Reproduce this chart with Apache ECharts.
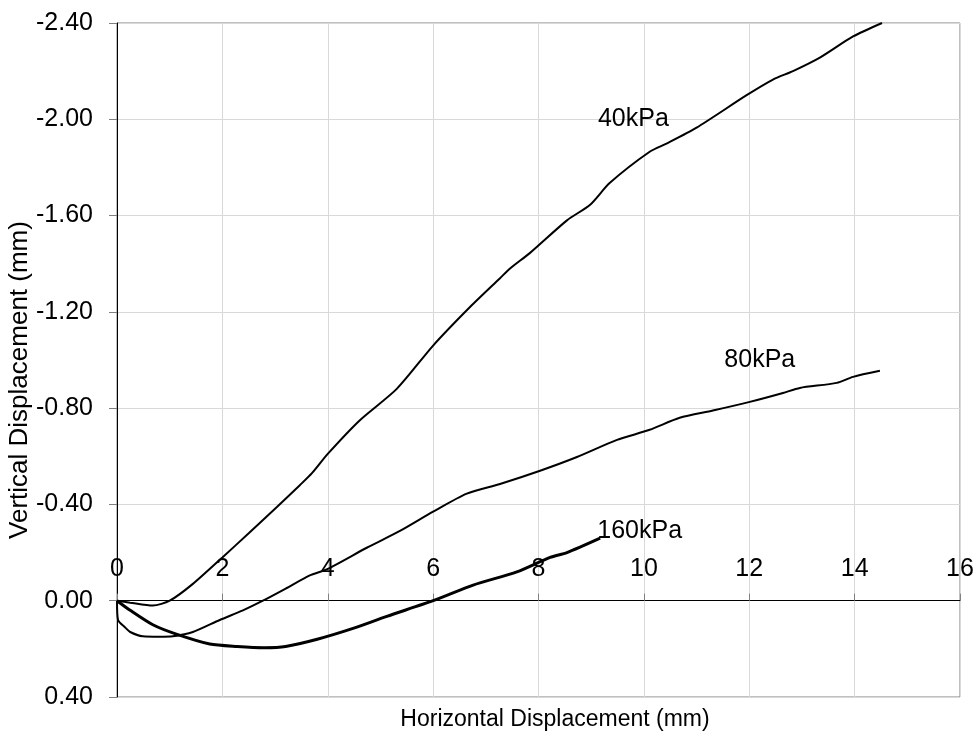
<!DOCTYPE html>
<html>
<head>
<meta charset="utf-8">
<script src="https://cdn.jsdelivr.net/npm/echarts@6/dist/echarts.min.js"></script>
<style>
html,body{margin:0;padding:0;background:#fff;}
#chart{width:979px;height:738px;}
</style>
</head>
<body>
<div id="chart"></div>
<script>
// Horizontal displacement (mm) and vertical displacement (mm) per normal stress
var x40 = [0, 0.25, 0.68, 1.0, 1.44, 2.0, 2.5, 3.04, 3.47, 3.7, 4.0, 4.61, 5.31, 6.0, 6.70, 7.27, 7.46, 7.84, 8.54, 8.98, 9.35, 10.11, 10.44, 11.0, 11.95, 12.45, 12.83, 13.34, 13.97, 14.52];
var y40 = [0, 0.008, 0.02, 0.0, -0.07, -0.18, -0.28, -0.39, -0.48, -0.53, -0.61, -0.75, -0.88, -1.06, -1.22, -1.34, -1.38, -1.445, -1.58, -1.645, -1.735, -1.865, -1.90, -1.965, -2.10, -2.165, -2.20, -2.256, -2.344, -2.40];

var x80 = [0, 0.02, 0.15, 0.25, 0.49, 0.8, 1.06, 1.44, 1.95, 2.39, 2.77, 3.2, 3.66, 3.98, 4.74, 5.37, 6.0, 6.64, 7.27, 8.03, 8.73, 9.49, 10.11, 10.68, 11.31, 12.01, 12.64, 12.96, 13.66, 13.97, 14.48];
var y80 = [0, 0.08, 0.11, 0.13, 0.148, 0.15, 0.148, 0.13, 0.08, 0.04, 0, -0.05, -0.105, -0.13, -0.22, -0.29, -0.37, -0.445, -0.485, -0.54, -0.597, -0.668, -0.71, -0.76, -0.79, -0.826, -0.863, -0.884, -0.905, -0.93, -0.955];

var x160 = [0, 0.25, 0.68, 1.14, 1.76, 2.28, 2.8, 3.2, 3.8, 4.48, 5.12, 6.0, 6.76, 7.59, 8.22, 8.54, 9.17];
var y160 = [0, 0.04, 0.10, 0.14, 0.18, 0.19, 0.195, 0.19, 0.16, 0.115, 0.065, 0.0, -0.065, -0.12, -0.18, -0.20, -0.26];

var seriesNames = ['40kPa', '80kPa', '160kPa'];
var labelPos = [[9.8, -2.0], [12.2, -1.0], [9.92, -0.29]];

var xTitle = 'Horizontal Displacement (mm)';
var yTitle = 'Vertical Displacement (mm)';

function pairs(xs, ys) { return xs.map(function (x, i) { return [x, ys[i]]; }); }

var FONT = 'Liberation Sans, Arial, sans-serif';
var chart = echarts.init(document.getElementById('chart'), null, {renderer: 'canvas'});

function mkSeries(name, data, width, pos) {
  return {
    name: name, type: 'line', data: data, showSymbol: false, symbol: 'none',
    smooth: 0.25,
    lineStyle: {color: '#000', width: width}, itemStyle: {color: '#000'},
    z: 3,
    markPoint: {
      symbol: 'circle', symbolSize: 0, silent: true,
      label: {show: true, position: 'inside', formatter: name, color: '#000', fontSize: 25, fontFamily: FONT},
      data: [{coord: pos}]
    }
  };
}

chart.setOption({
  animation: false,
  backgroundColor: '#fff',
  grid: {left: 117, top: 23, right: 19, bottom: 41, show: true, borderColor: '#808080', borderWidth: 1},
  xAxis: {
    type: 'value', min: 0, max: 16, interval: 2,
    axisLine: {onZero: true, lineStyle: {color: '#000', width: 1}},
    axisTick: {show: true, inside: true, length: 7, lineStyle: {color: '#808080'}},
    axisLabel: {inside: true, margin: 115, fontSize: 25, color: '#000', fontFamily: FONT},
    splitLine: {show: true, lineStyle: {color: '#d9d9d9', width: 1}}
  },
  yAxis: {
    type: 'value', inverse: true, min: -2.4, max: 0.4, interval: 0.4,
    axisLine: {show: true, onZero: false, lineStyle: {color: '#000', width: 1}},
    axisTick: {show: true, length: 8, lineStyle: {color: '#808080'}},
    axisLabel: {margin: 24, fontSize: 25, color: '#000', fontFamily: FONT,
      formatter: function (v) { return Math.abs(v) < 1e-9 ? '0.00' : v.toFixed(2); }},
    splitLine: {show: true, lineStyle: {color: '#d9d9d9', width: 1}}
  },
  graphic: [
    {type: 'text', x: 555, y: 720, style: {text: xTitle, fontSize: 23, fontFamily: FONT, fill: '#000', align: 'center', verticalAlign: 'middle'}},
    {type: 'text', x: 20, y: 380, rotation: Math.PI / 2, style: {text: yTitle, fontSize: 26, fontFamily: FONT, fill: '#000', align: 'center', verticalAlign: 'middle'}}
  ],
  series: [
    mkSeries(seriesNames[0], pairs(x40, y40), 2, labelPos[0]),
    mkSeries(seriesNames[1], pairs(x80, y80), 2, labelPos[1]),
    mkSeries(seriesNames[2], pairs(x160, y160), 3, labelPos[2])
  ]
});
</script>
</body>
</html>
